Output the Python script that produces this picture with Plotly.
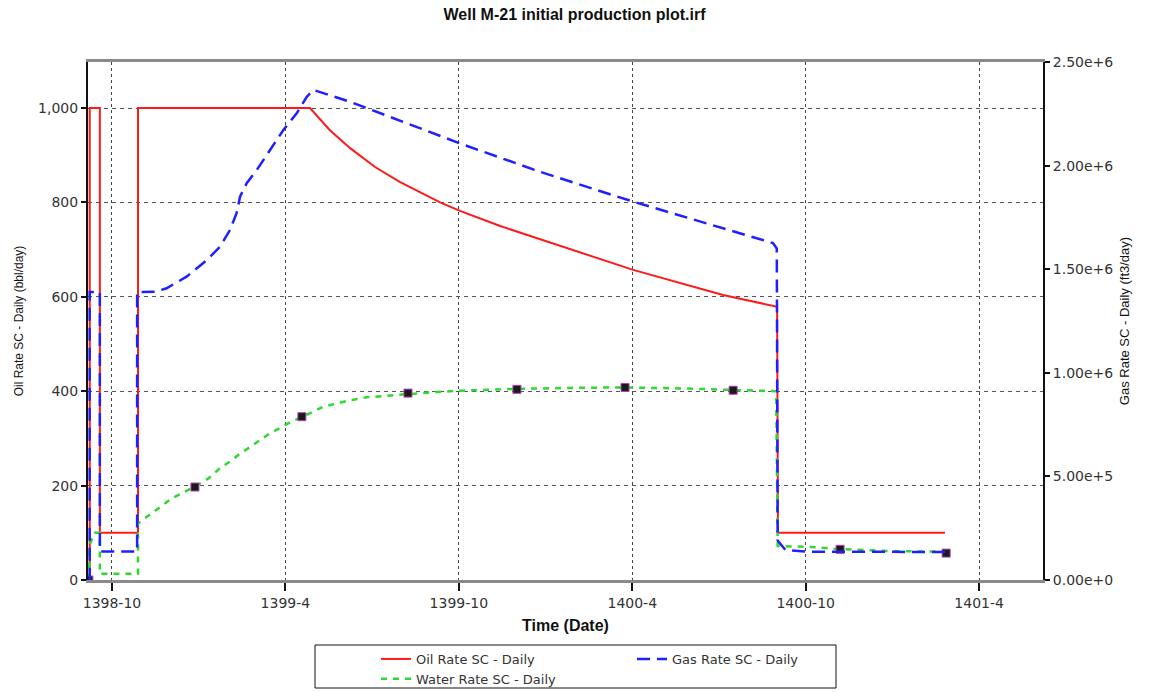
import plotly.graph_objects as go

# x values are months since 1398-10 (Persian calendar)
tick_months = [0, 6, 12, 18, 24, 30]
tick_labels = ["1398-10", "1399-4", "1399-10", "1400-4", "1400-10", "1401-4"]

oil_t = [-0.80, -0.77, -0.77, -0.42, -0.42, 0.90, 0.90, 6.85, 7.54, 8.24, 9.10, 9.97,
         11.35, 12.04, 13.43, 15.16, 18.03, 21.14, 23.01, 23.04, 28.82]
oil_v = [0, 0, 1000, 1000, 100, 100, 1000, 1000, 953, 915, 875, 843,
         800, 782, 750, 715, 657, 604, 579, 100, 100]

gas_t = [-0.80, -0.77, -0.77, -0.42, -0.42, 0.87, 0.87, 1.49, 1.89, 2.58, 3.28, 3.74, 4.08,
         4.31, 4.43, 4.66, 5.01, 5.47, 5.93, 6.39, 6.74, 6.97, 7.65, 8.24, 12.04, 14.81,
         18.03, 22.87, 23.00, 23.03, 23.3, 23.6, 24.0, 28.82]
gas_v = [0, 0, 1.39e6, 1.39e6, 1.37e5, 1.37e5, 1.39e6, 1.391e6, 1.408e6, 1.464e6, 1.544e6,
         1.609e6, 1.689e6, 1.770e6, 1.850e6, 1.915e6, 1.979e6, 2.075e6, 2.172e6, 2.252e6,
         2.332e6, 2.365e6, 2.335e6, 2.308e6, 2.107e6, 1.970e6, 1.826e6, 1.626e6,
         1.60e6, 1.9e5, 1.45e5, 1.40e5, 1.37e5, 1.35e5]

water_t = [-0.80, -0.77, -0.60, -0.42, -0.42, 0.90, 0.90, 0.97, 2.07, 2.87, 3.33, 3.74, 4.08,
           4.37, 4.78, 5.12, 5.47, 5.81, 6.16, 6.56, 6.97, 7.31, 7.78, 8.24, 8.81, 9.39,
           10.20, 11.12, 12.04, 14.01, 15.85, 17.75, 19.65, 21.49, 22.98, 23.03, 24.2,
           25.0, 25.7, 27.1, 28.82]
water_v = [0, 75, 100, 100, 13, 13, 120, 123, 173, 198, 215, 237, 251,
           265, 282, 297, 311, 322, 334, 345, 357, 367, 374, 381, 387, 390,
           394, 398, 401, 405, 407, 408, 406, 403, 400, 72, 70,
           66, 64, 61, 60]

obs_t = [-0.80, 2.87, 6.57, 10.24, 14.01, 17.75, 21.49, 25.19, 28.86]
obs_v = [0, 197, 346, 396, 404, 408, 402, 65, 57]

fig = go.Figure()
fig.add_trace(go.Scatter(x=oil_t, y=oil_v, mode="lines", name="Oil Rate SC - Daily",
                         line=dict(color="#ff1a1a", width=2), legend="legend"))
fig.add_trace(go.Scatter(x=water_t, y=water_v, mode="lines", name="Water Rate SC - Daily",
                         line=dict(color="#2ed82e", width=2.5, dash="6px,6px"), legend="legend"))
fig.add_trace(go.Scatter(x=gas_t, y=gas_v, mode="lines", name="Gas Rate SC - Daily", yaxis="y2",
                         line=dict(color="#1f1fff", width=2.5, dash="13px,7px"), legend="legend2"))
fig.add_trace(go.Scatter(x=obs_t, y=obs_v, mode="markers", showlegend=False,
                         marker=dict(symbol="square", size=8, color="#1a1a1a",
                                     line=dict(color="#b040b0", width=1))))

font_main = "Liberation Sans, Arial, sans-serif"
font_wide = "DejaVu Sans, Verdana, sans-serif"
PX0, PW, PY0, PH = 88, 955, 580, 518  # plot-area pixel frame, used only to place legend/box


def px_x(x):
    return (x - PX0) / PW


def px_y(y):
    return (PY0 - y) / PH


fig.update_layout(
    width=1149, height=692,
    margin=dict(l=88, r=106, t=62, b=112, autoexpand=False),
    paper_bgcolor="white", plot_bgcolor="white",
    font=dict(family=font_main, size=12, color="#333"),
    title=dict(text="<b>Well M-21 initial production plot.irf</b>", x=0.5, xanchor="center",
               yref="container", y=1 - 14 / 692, yanchor="middle",
               font=dict(family=font_main, size=16, color="#111")),
    xaxis=dict(range=[-0.83, 32.21], tickvals=tick_months, ticktext=tick_labels,
               showgrid=True, gridcolor="#444", griddash="3px,3px", gridwidth=1,
               showline=True, linecolor="#8a8a8a", linewidth=3, mirror=True,
               ticks="outside", ticklen=8, tickwidth=2, tickcolor="#111",
               tickfont=dict(family=font_wide, size=14, color="#333"), zeroline=False,
               title=dict(text="<b>Time (Date)</b>", standoff=11,
                          font=dict(family=font_main, size=16, color="#111"))),
    yaxis=dict(range=[0, 1097.5], tickvals=[0, 200, 400, 600, 800, 1000], tickformat=",",
               showgrid=True, gridcolor="#555", griddash="4px,4px", gridwidth=1,
               showline=True, linecolor="#111", linewidth=2, mirror=False,
               ticks="outside", ticklen=5, tickwidth=2, tickcolor="#111",
               tickfont=dict(family=font_wide, size=14, color="#333"), zeroline=False,
               title=dict(text="Oil Rate SC - Daily (bbl/day)", standoff=12,
                          font=dict(size=12, color="#111"))),
    yaxis2=dict(range=[0, 2.5e6], overlaying="y", side="right",
                tickvals=[0, 5e5, 1e6, 1.5e6, 2e6, 2.5e6],
                ticktext=["0.00e+0", "5.00e+5", "1.00e+6", "1.50e+6", "2.00e+6", "2.50e+6"],
                showgrid=False, showline=True, linecolor="#111", linewidth=2,
                ticks="outside", ticklen=5, tickwidth=2, tickcolor="#111",
                tickfont=dict(family=font_wide, size=14, color="#333"), zeroline=False,
                title=dict(text="Gas Rate SC - Daily (ft3/day)", standoff=8,
                           font=dict(size=13, color="#111"))),
    legend=dict(x=px_x(376), xanchor="left", y=px_y(644), yanchor="top",
                bgcolor="rgba(0,0,0,0)", borderwidth=0,
                font=dict(family=font_wide, size=13, color="#333"),
                tracegroupgap=0),
    legend2=dict(x=px_x(632), xanchor="left", y=px_y(644), yanchor="top",
                 bgcolor="rgba(0,0,0,0)", borderwidth=0,
                 font=dict(family=font_wide, size=13, color="#333")),
    shapes=[dict(type="rect", xref="paper", yref="paper",
                 x0=px_x(315), x1=px_x(836), y0=px_y(645), y1=px_y(688),
                 line=dict(color="#111", width=1), fillcolor="rgba(0,0,0,0)")],
)

fig.write_html("out.html")
